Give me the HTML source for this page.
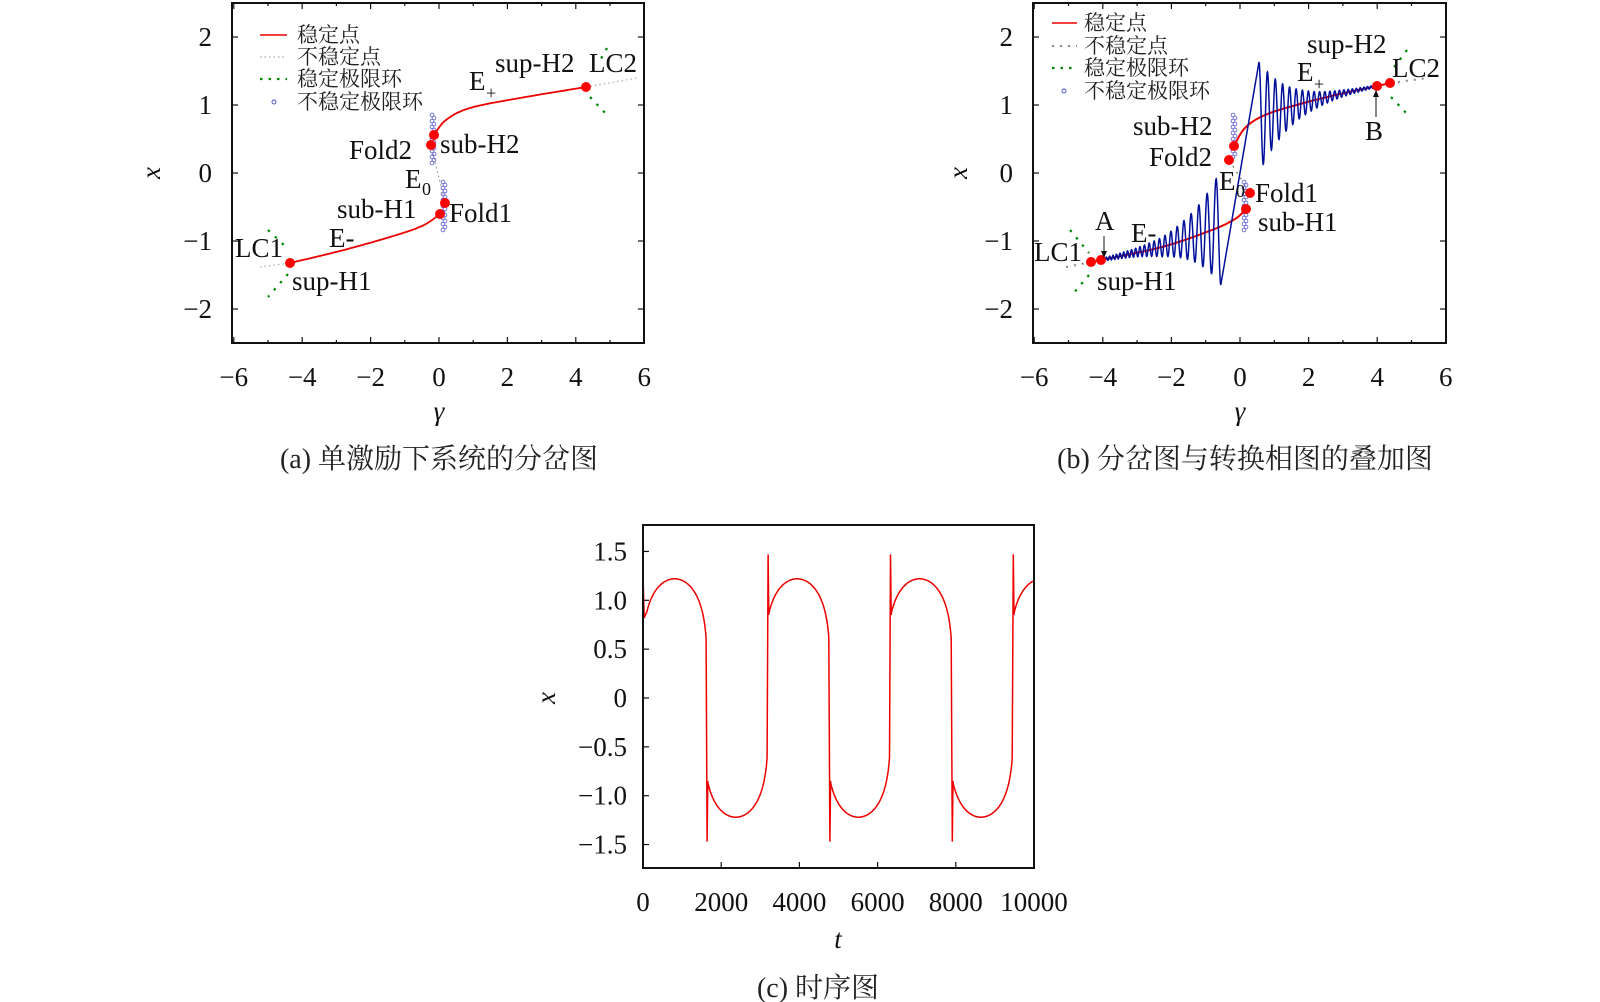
<!DOCTYPE html>
<html><head><meta charset="utf-8"><style>
html,body{margin:0;padding:0;background:#fff;}
svg{display:block;}
.t{font-family:"Liberation Serif","Noto Serif CJK SC",serif;font-size:27px;fill:#111;}
.tk{font-family:"Liberation Serif",serif;font-size:27px;fill:#111;}
.lg{font-family:"Liberation Serif","Noto Serif CJK SC",serif;font-size:21px;fill:#222;}
.cap{font-family:"Liberation Serif","Noto Serif CJK SC",serif;font-size:28px;fill:#222;}
.it{font-style:italic;}
</style></head><body>
<svg id="s" xmlns="http://www.w3.org/2000/svg" width="1600" height="1002" viewBox="0 0 1600 1002">
<g id="g"></g>
<rect x="232" y="3" width="412" height="340" fill="none" stroke="#111" stroke-width="2"/>
<rect x="1033" y="3" width="413" height="340" fill="none" stroke="#111" stroke-width="2"/>
<rect x="643" y="525" width="391" height="343" fill="none" stroke="#111" stroke-width="2"/>

<line x1="260" y1="35" x2="287" y2="35" stroke="#e00" stroke-width="1.6"/>
<line x1="260" y1="57" x2="287" y2="57" stroke="#aaa" stroke-width="1.2" stroke-dasharray="1.5 3"/>
<line x1="260" y1="79" x2="287" y2="79" stroke="#080" stroke-width="2.2" stroke-dasharray="2.5 6"/>
<circle cx="274" cy="102" r="2" fill="none" stroke="#44c" stroke-width="0.9"/>
<text class="lg" x="297" y="42">稳定点</text>
<text class="lg" x="297" y="64">不稳定点</text>
<text class="lg" x="297" y="86">稳定极限环</text>
<text class="lg" x="297" y="109">不稳定极限环</text>
<line x1="1052" y1="23" x2="1077" y2="23" stroke="#e00" stroke-width="1.6"/>
<line x1="1052" y1="46" x2="1077" y2="46" stroke="#888" stroke-width="2" stroke-dasharray="2 6"/>
<line x1="1052" y1="68" x2="1077" y2="68" stroke="#080" stroke-width="2.2" stroke-dasharray="2.5 6"/>
<circle cx="1064" cy="91" r="2" fill="none" stroke="#44c" stroke-width="0.9"/>
<text class="lg" x="1084" y="30">稳定点</text>
<text class="lg" x="1084" y="53">不稳定点</text>
<text class="lg" x="1084" y="75">稳定极限环</text>
<text class="lg" x="1084" y="98">不稳定极限环</text>

<g class="t">
<text x="495" y="72">sup-H2</text>
<text x="589" y="72">LC2</text>
<text x="469" y="90">E</text><text x="486" y="99" font-size="18">+</text>
<text x="349" y="159">Fold2</text>
<text x="440" y="153">sub-H2</text>
<text x="405" y="188">E</text><text x="422" y="195" font-size="18">0</text>
<text x="337" y="218">sub-H1</text>
<text x="449" y="222">Fold1</text>
<text x="329" y="247">E-</text>
<text x="235" y="257">LC1</text>
<text x="292" y="290">sup-H1</text>
</g>
<g class="t">
<text x="1307" y="53">sup-H2</text>
<text x="1392" y="77">LC2</text>
<text x="1297" y="81">E</text><text x="1314" y="90" font-size="18">+</text>
<text x="1365" y="140">B</text>
<text x="1133" y="135">sub-H2</text>
<text x="1149" y="166">Fold2</text>
<text x="1219" y="190">E</text><text x="1236" y="197" font-size="18">0</text>
<text x="1255" y="202">Fold1</text>
<text x="1258" y="231">sub-H1</text>
<text x="1095" y="230">A</text>
<text x="1131" y="242">E-</text>
<text x="1034" y="261">LC1</text>
<text x="1097" y="290">sup-H1</text>
</g>
<line x1="1104" y1="236" x2="1104" y2="256" stroke="#111" stroke-width="1"/>
<polygon points="1101,251 1107,251 1104,258" fill="#111"/>
<line x1="1376" y1="117" x2="1376" y2="92" stroke="#111" stroke-width="1"/>
<polygon points="1373,97 1379,97 1376,90" fill="#111"/>

<text class="t it" transform="translate(160,173) rotate(-90)" text-anchor="middle">x</text>
<text class="t it" transform="translate(967,173) rotate(-90)" text-anchor="middle">x</text>
<text class="t it" transform="translate(555,698) rotate(-90)" text-anchor="middle">x</text>
<text class="t it" x="439" y="420" text-anchor="middle">γ</text>
<text class="t it" x="1240" y="420" text-anchor="middle">γ</text>
<text class="t it" x="838" y="948" text-anchor="middle">t</text>
<text class="cap" x="439" y="468" text-anchor="middle">(a) 单激励下系统的分岔图</text>
<text class="cap" x="1245" y="468" text-anchor="middle">(b) 分岔图与转换相图的叠加图</text>
<text class="cap" x="818" y="997" text-anchor="middle">(c) 时序图</text>
</svg>
<script>
var NS='http://www.w3.org/2000/svg',g=document.getElementById('g');
function el(t,a,txt){var e=document.createElementNS(NS,t);for(var k in a)e.setAttribute(k,a[k]);if(txt!==undefined)e.textContent=txt;g.appendChild(e);return e;}
function poly(p){return 'M'+p.map(function(q){return q[0].toFixed(1)+','+q[1].toFixed(1);}).join('L');}
function cr(p,n){n=n||10;var o=[];for(var i=0;i<p.length-1;i++){var p0=p[Math.max(0,i-1)],p1=p[i],p2=p[i+1],p3=p[Math.min(p.length-1,i+2)];for(var j=0;j<n;j++){var t=j/n,t2=t*t,t3=t2*t;var f=function(a,b,c,d){return 0.5*((2*b)+(-a+c)*t+(2*a-5*b+4*c-d)*t2+(-a+3*b-3*c+d)*t3);};o.push([f(p0[0],p1[0],p2[0],p3[0]),f(p0[1],p1[1],p2[1],p3[1])]);}}o.push(p[p.length-1]);return o;}
function interp(pts,x){for(var i=0;i<pts.length-1;i++){if(x<=pts[i+1][0]){var a=pts[i],b=pts[i+1];return a[1]+(b[1]-a[1])*(x-a[0])/(b[0]-a[0]);}}return pts[pts.length-1][1];}
function T(x,y,s,anchor){el('text',{x:x,y:y,'class':'tk','text-anchor':anchor||'middle'},s);}
function axesAB(x0,xs,left,right){
 for(var k=-6;k<=6;k++){var x=x0+k*xs;var L=(k%2==0)?6:3;
  el('line',{x1:x,y1:343,x2:x,y2:343-L,stroke:'#111','stroke-width':1.2});
  el('line',{x1:x,y1:3,x2:x,y2:3+L,stroke:'#111','stroke-width':1.2});
  if(k%2==0)T(x,386,(k<0?'−':'')+Math.abs(k));}
 for(var j=-2;j<=2;j++){var y=173-68*j;
  el('line',{x1:left,y1:y,x2:left+6,y2:y,stroke:'#111','stroke-width':1.2});
  el('line',{x1:right,y1:y,x2:right-6,y2:y,stroke:'#111','stroke-width':1.2});
  T(left-20,y+9,(j<0?'−':'')+Math.abs(j),'end');}
}
axesAB(439,34.2,232,644);axesAB(1240,34.3,1033,1446);
for(var k=0;k<=5;k++){var x=643+78.2*k;el('line',{x1:x,y1:868,x2:x,y2:862,stroke:'#111','stroke-width':1.2});T(x,911,String(k*2000));}
var cl=['−1.5','−1.0','−0.5','0','0.5','1.0','1.5'];
for(var j=-3;j<=3;j++){var y=698-48.85*j;el('line',{x1:643,y1:y,x2:649,y2:y,stroke:'#111','stroke-width':1.2});T(627,y+9,cl[j+3],'end');}

function dotted(a,b,col,w,da){el('path',{d:poly([a,b]),stroke:col,'stroke-width':w,'stroke-dasharray':da,fill:'none'});}
function circles(x,y1,y2,dx){for(var y=y1,i=0;y<=y2;y+=3,i++)el('circle',{cx:x+(i%2?dx:-dx)*0.5,cy:y,r:1.9,fill:'none',stroke:'#55c','stroke-width':0.8});}
function dot(x,y){el('circle',{cx:x,cy:y,r:5,fill:'#f00'});}

dotted([260,267],[290,263],'#aaa',1.2,'1.5 3');
dotted([586,87],[637,78],'#aaa',1.2,'1.5 3');
dotted([431,145],[445,203],'#999',1.2,'1.5 3');
dotted([268,230],[287,248],'#080',2.2,'2.5 7');dotted([288,274],[268,297],'#080',2.2,'2.5 7');
dotted([607,48],[598,64],'#080',2.2,'2.5 7');dotted([590,97],[609,117],'#080',2.2,'2.5 7');
circles(433,115,163,2);circles(444,182,230,2);
var aLo=[[290,263],[340,251],[390,237],[422,226],[440,214]];
var aUp=[[434,135],[446,120],[470,108],[520,98],[586,87]];
el('path',{d:poly(cr(aLo)),stroke:'#e00','stroke-width':1.8,fill:'none'});
el('path',{d:poly(cr(aUp)),stroke:'#e00','stroke-width':1.8,fill:'none'});
dot(290,263);dot(586,87);dot(434,135);dot(431,145);dot(440,214);dot(445,203);

dotted([1066,267],[1091,262],'#888',2,'2 6');
dotted([1390,83],[1428,78],'#888',2,'2 6');
dotted([1229,160],[1250,193],'#888',1.5,'2 5');
dotted([1070,230],[1089,253],'#080',2.2,'2.5 7');dotted([1089,275],[1072,295],'#080',2.2,'2.5 7');
dotted([1407,50],[1392,70],'#080',2.2,'2.5 7');dotted([1391,97],[1410,117],'#080',2.2,'2.5 7');
circles(1234,115,157,2);circles(1245,182,232,2);
var bLo=[[1091,262],[1101,260],[1162,247],[1212,230],[1235,219],[1246,209]];
var bUp=[[1234,146],[1245,128],[1265,115],[1300,104],[1340,94],[1377,86],[1390,83]];
el('path',{d:poly(cr(bLo)),stroke:'#e00','stroke-width':2,fill:'none'});
el('path',{d:poly(cr(bUp)),stroke:'#e00','stroke-width':2,fill:'none'});
var bl=[],ph=0,pts=[];
for(var x=1101;x<=1221;x+=0.2){var p=3.2+6.5*Math.pow((x-1101)/120,1.5);ph+=2*Math.PI*0.2/p;pts.push([x,ph]);}
var off=-ph;
var loBase=[[1101,260],[1162,247],[1212,230],[1225,226]];
pts.forEach(function(q){var amp=58*Math.exp((q[0]-1221)/33);bl.push([q[0],interp(loBase,q[0])+amp*Math.cos(q[1]+off)]);});
var upBase=[[1255,120],[1265,115],[1300,104],[1340,94],[1377,86]];
ph=0;
for(var x=1259;x<=1377;x+=0.2){var p=9-5.8*Math.pow((x-1259)/118,0.7);var amp=56*Math.exp(-(x-1259)/30);bl.push([x,interp(upBase,x)-amp*Math.cos(ph)]);ph+=2*Math.PI*0.2/p;}
el('path',{d:poly(bl),stroke:'#00109a','stroke-width':1.5,fill:'none'});
dot(1091,262);dot(1101,260);dot(1246,209);dot(1250,193);dot(1229,160);dot(1234,146);dot(1377,86);dot(1390,83);

function X(t){return 643+t*0.0391;}function Y(v){return 698-v*97.7;}
function f(s){var u=(s-0.47)/0.53;var q=Math.max(0,1-u*u);return 1.22*Math.pow(q,0.25);}
var cp=[[X(0),Y(0.15)],[X(8),Y(1.15)],[X(30),Y(0.82)]];
var ev=[[70,1],[1640,-1],[3200,1],[4780,-1],[6330,1],[7910,-1],[9470,1],[11040,-1]];
for(var i=0;i<ev.length-1;i++){var e=ev[i][0],sg=ev[i][1],L=ev[i+1][0]-e;
 if(i>0){cp.push([X(e),Y(sg*1.47)]);cp.push([X(e+18),Y(sg*0.85)]);}
 for(var s=(i==0?0.02:0.015);s<=0.985;s+=0.004){var t=e+s*L;if(t>10000)break;cp.push([X(t),Y(sg*f(s))]);}
 if(e+0.985*L>10000)break;}
el('path',{d:poly(cp),stroke:'#e00','stroke-width':1.5,fill:'none'});
</script>
</body></html>
